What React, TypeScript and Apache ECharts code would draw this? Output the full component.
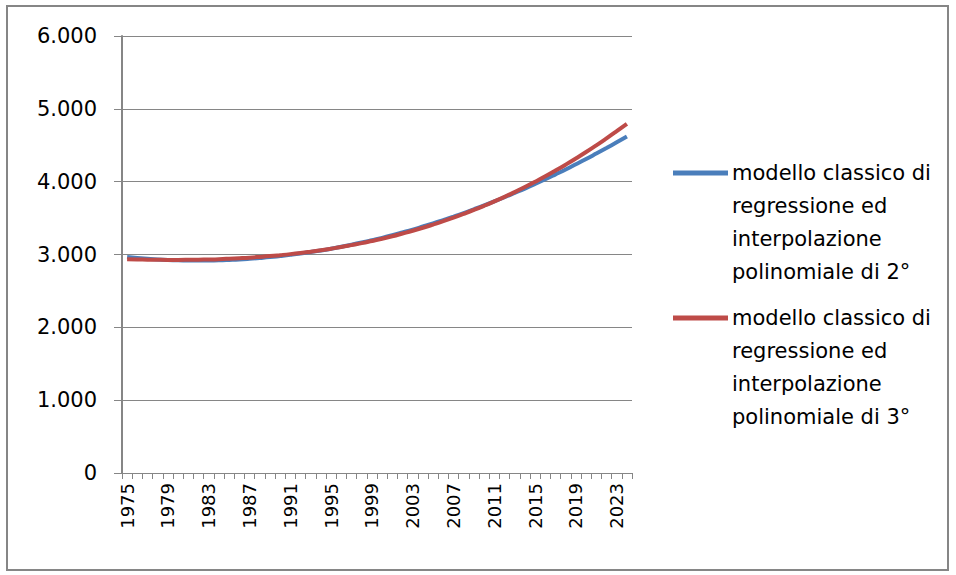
import React, { useEffect, useRef } from "react";
import * as echarts from "echarts";

const years: string[] = [
  "1975", "1976", "1977", "1978", "1979", "1980", "1981", "1982", "1983", "1984",
  "1985", "1986", "1987", "1988", "1989", "1990", "1991", "1992", "1993", "1994",
  "1995", "1996", "1997", "1998", "1999", "2000", "2001", "2002", "2003", "2004",
  "2005", "2006", "2007", "2008", "2009", "2010", "2011", "2012", "2013", "2014",
  "2015", "2016", "2017", "2018", "2019", "2020", "2021", "2022", "2023", "2024",
];

const poly2: number[] = [
  2965, 2952, 2942, 2933, 2926, 2921, 2918, 2917, 2918, 2921,
  2926, 2932, 2941, 2952, 2964, 2979, 2995, 3013, 3034, 3056,
  3080, 3106, 3134, 3164, 3196, 3229, 3265, 3303, 3342, 3384,
  3427, 3473, 3520, 3569, 3621, 3674, 3729, 3786, 3845, 3905,
  3968, 4033, 4100, 4168, 4239, 4311, 4386, 4462, 4540, 4620,
];

const poly3: number[] = [
  2935, 2932, 2929, 2927, 2926, 2926, 2927, 2929, 2932, 2936,
  2942, 2949, 2957, 2967, 2978, 2991, 3005, 3021, 3039, 3058,
  3080, 3103, 3129, 3156, 3186, 3217, 3251, 3288, 3326, 3367,
  3411, 3457, 3506, 3558, 3612, 3669, 3729, 3791, 3857, 3926,
  3998, 4073, 4152, 4234, 4319, 4407, 4499, 4595, 4694, 4795,
];

const seriesNames: string[] = [
  "modello classico di\nregressione ed\ninterpolazione\npolinomiale di 2°",
  "modello classico di\nregressione ed\ninterpolazione\npolinomiale di 3°",
];

const yTicks: number[] = [0, 1000, 2000, 3000, 4000, 5000, 6000];

const BLUE = "#4A7EBB";
const RED = "#BE4B48";
const GRAY = "#868686";

function fmt(v: number): string {
  return String(v).replace(/\B(?=(\d{3})+(?!\d))/g, ".");
}

export default function App() {
  const ref = useRef<HTMLDivElement>(null);
  useEffect(() => {
    if (!ref.current) return;
    const chart = echarts.init(ref.current, undefined, { renderer: "svg" });
    chart.setOption({
      animation: false,
      backgroundColor: "#ffffff",
      grid: { left: 122, top: 36, right: 324, bottom: 102, containLabel: false },
      xAxis: {
        type: "category",
        data: years,
        boundaryGap: true,
        axisLine: { show: true, lineStyle: { color: GRAY, width: 1 } },
        axisTick: { show: true, interval: 0, length: 6, lineStyle: { color: GRAY } },
        axisLabel: {
          interval: 3,
          rotate: 90,
          margin: 10,
          color: "#000",
          fontFamily: "DejaVu Sans",
          fontSize: 18,
        },
        splitLine: { show: false },
      },
      yAxis: {
        type: "value",
        min: yTicks[0],
        max: yTicks[yTicks.length - 1],
        interval: 1000,
        axisLine: { show: true, lineStyle: { color: GRAY, width: 2 } },
        axisTick: { show: true, length: 8, lineStyle: { color: GRAY } },
        axisLabel: {
          margin: 25,
          color: "#000",
          fontFamily: "DejaVu Sans",
          fontSize: 21,
          formatter: (v: number) => fmt(v),
        },
        splitLine: { show: true, lineStyle: { color: GRAY, width: 1 } },
      },
      legend: { show: false },
      series: [
        {
          name: seriesNames[0],
          type: "line",
          data: poly2,
          smooth: true,
          showSymbol: false,
          lineStyle: { color: BLUE, width: 4 },
          itemStyle: { color: BLUE },
        },
        {
          name: seriesNames[1],
          type: "line",
          data: poly3,
          smooth: true,
          showSymbol: false,
          lineStyle: { color: RED, width: 4 },
          itemStyle: { color: RED },
        },
      ],
      graphic: [
        {
          type: "rect",
          shape: { x: 7, y: 6, width: 941, height: 564 },
          style: { fill: "none", stroke: GRAY, lineWidth: 2 },
          silent: true,
        },
        {
          type: "line",
          shape: { x1: 673, y1: 173, x2: 728, y2: 173 },
          style: { stroke: BLUE, lineWidth: 5 },
        },
        {
          type: "text",
          x: 732,
          y: 156,
          style: {
            text: seriesNames[0],
            fill: "#000",
            fontFamily: "DejaVu Sans",
            fontSize: 21,
            lineHeight: 33,
            verticalAlign: "top",
            align: "left",
          },
        },
        {
          type: "line",
          shape: { x1: 673, y1: 318, x2: 728, y2: 318 },
          style: { stroke: RED, lineWidth: 5 },
        },
        {
          type: "text",
          x: 732,
          y: 301,
          style: {
            text: seriesNames[1],
            fill: "#000",
            fontFamily: "DejaVu Sans",
            fontSize: 21,
            lineHeight: 33,
            verticalAlign: "top",
            align: "left",
          },
        },
      ],
    });
    return () => chart.dispose();
  }, []);
  return (
    <div
      ref={ref}
      style={{ position: "absolute", left: 0, top: 0, width: 956, height: 575 }}
    />
  );
}
